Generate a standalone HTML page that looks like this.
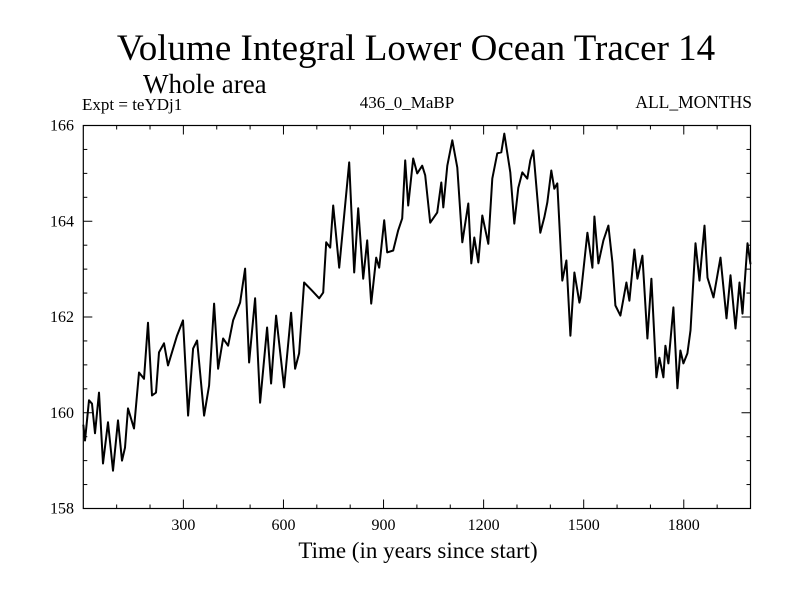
<!DOCTYPE html>
<html><head><meta charset="utf-8"><style>
body{margin:0;background:#fff}
svg{display:block}
text{font-family:"Liberation Serif",serif;fill:#000}
</style></head><body>
<svg id="chart" width="800" height="600" viewBox="0 0 800 600" xmlns="http://www.w3.org/2000/svg">
<text x="416" y="60" font-size="37" text-anchor="middle">Volume Integral Lower Ocean Tracer 14</text>
<text x="143" y="93" font-size="27">Whole area</text>
<text x="82" y="110" font-size="17">Expt = teYDj1</text>
<text x="407" y="108" font-size="17" text-anchor="middle">436_0_MaBP</text>
<text x="752" y="108" font-size="17.5" text-anchor="end">ALL_MONTHS</text>
<text x="418" y="558" font-size="23" text-anchor="middle">Time (in years since start)</text>
<g id="axes"></g>
<g id="series"></g>
</svg>
<script>
const years=[0,5,17,26,35,47,59,74,89,104,116,125,134,152,167,182,194,206,218,227,242,254,281,299,314,329,341,362,377,392,404,419,434,449,470,485,497,515,
530,551,563,578,602,623,635,647,662,686,707,719,728,740,749,767,797,812,824,839,851,863,878,887,902,911,929,944,956,965,974,989,1001,
1016,1025,1040,1061,1073,1079,1091,1106,1121,1136,1154,1163,1172,1184,1196,1214,1226,1241,1253,1262,1280,1292,1304,1316,1331,1340,1349,1370,1382,1391,1403,1412,1421,1436,1448,1460,1472,1487,
1490,1511,1526,1532,1544,1559,1574,1586,1595,1610,1628,1637,1652,1661,1676,1691,1703,1718,1727,1739,1745,1754,1769,1781,1790,1799,1811,1820,1835,1847,1862,1871,1889,1910,1928,1940,1955,1967,1976,1991,2000];
const values=[159.75,159.42,160.26,160.19,159.57,160.42,158.94,159.80,158.79,159.84,159.00,159.27,160.09,159.67,160.84,160.71,161.88,160.36,160.42,161.26,161.45,160.99,161.61,161.93,159.94,161.34,161.51,159.94,160.57,162.28,160.92,161.55,161.40,161.93,162.30,163.01,161.05,162.39,
160.21,161.78,160.61,162.03,160.53,162.09,160.92,161.24,162.72,162.55,162.39,162.51,163.56,163.45,164.33,163.03,165.23,162.93,164.27,162.80,163.60,162.28,163.24,163.03,164.02,163.35,163.39,163.81,164.06,165.27,164.33,165.31,165.00,
165.16,164.96,163.97,164.18,164.81,164.29,165.16,165.69,165.12,163.56,164.37,163.12,163.66,163.14,164.12,163.53,164.89,165.42,165.44,165.83,165.02,163.95,164.70,165.02,164.89,165.27,165.48,163.76,164.08,164.39,165.06,164.68,164.79,162.76,163.18,161.61,162.93,162.30,
162.39,163.76,163.03,164.10,163.12,163.60,163.91,163.14,162.24,162.03,162.72,162.34,163.41,162.80,163.28,161.55,162.80,160.74,161.15,160.74,161.40,161.03,162.20,160.51,161.30,161.03,161.24,161.72,163.54,162.76,163.91,162.82,162.41,163.24,161.97,162.87,161.76,162.72,162.07,163.54,163.10];
const xTicks=[300,600,900,1200,1500,1800];
const yTicks=[158,160,162,164,166];
const xMin=0,xMax=2000,yMin=158,yMax=166;
const L=83.3,R=750.5,T=125.5,B=508.5;
function sx(v){return L+(v-xMin)/(xMax-xMin)*(R-L);}
function sy(v){return B-(v-yMin)/(yMax-yMin)*(B-T);}
const NS="http://www.w3.org/2000/svg";
const axes=document.getElementById('axes');
function ln(x1,y1,x2,y2,name){const l=document.createElementNS(NS,'line');l.setAttribute('x1',x1);l.setAttribute('y1',y1);l.setAttribute('x2',x2);l.setAttribute('y2',y2);l.setAttribute('stroke','#000');l.setAttribute('stroke-width','1');


axes.appendChild(l);}
const fr=document.createElementNS(NS,'rect');
fr.setAttribute('x',L);fr.setAttribute('y',T);fr.setAttribute('width',R-L);fr.setAttribute('height',B-T);
fr.setAttribute('fill','none');fr.setAttribute('stroke','#000');fr.setAttribute('stroke-width','1.2');


axes.appendChild(fr);
for(let v=100;v<xMax;v+=100){const x=sx(v);const len=(v%300===0)?9:4;ln(x,B,x,B-len,'x-tick');ln(x,T,x,T+len,'x-tick-top');}
for(let v=yMin+0.5;v<yMax;v+=0.5){const y=sy(v);const len=(Math.abs(v%2)<1e-6)?9:4;ln(L,y,L+len,y,'y-tick');ln(R,y,R-len,y,'y-tick-right');}
xTicks.forEach(v=>{const t=document.createElementNS(NS,'text');t.setAttribute('x',sx(v));t.setAttribute('y',530);t.setAttribute('font-size','16');t.setAttribute('text-anchor','middle');t.textContent=v;


axes.appendChild(t);});
yTicks.forEach(v=>{const t=document.createElementNS(NS,'text');t.setAttribute('x',74);t.setAttribute('y',sy(v)+5);t.setAttribute('font-size','16');t.setAttribute('text-anchor','end');t.textContent=v;


axes.appendChild(t);});
const p=document.createElementNS(NS,'polyline');
p.setAttribute('points',years.map((y,i)=>sx(y).toFixed(1)+','+sy(values[i]).toFixed(1)).join(' '));
p.setAttribute('fill','none');p.setAttribute('stroke','#000');p.setAttribute('stroke-width','2');p.setAttribute('stroke-linejoin','round');


document.getElementById('series').appendChild(p);
</script>
</body></html>
